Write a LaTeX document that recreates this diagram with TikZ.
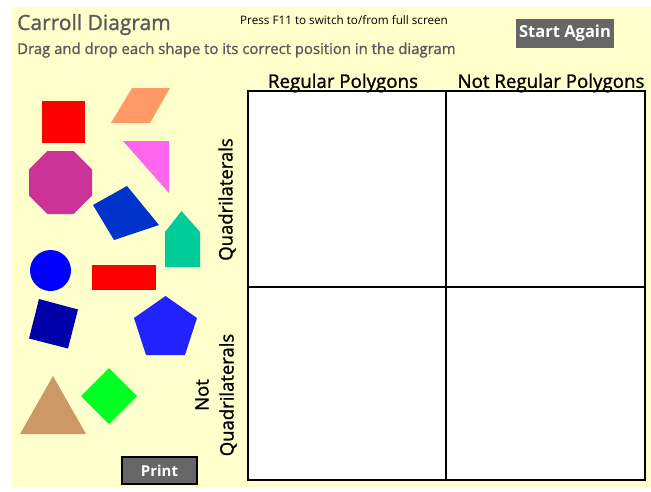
\documentclass[tikz,border=0pt]{standalone}
\usepackage{fontspec}
\setmainfont{Open Sans}
\newfontfamily\medfont{Open Sans}[FakeBold=1.2]
\definecolor{bg}{HTML}{FFFFCC}
\definecolor{titlegray}{HTML}{5A5A5A}
\definecolor{btngray}{HTML}{666666}
\definecolor{sqred}{HTML}{FF0000}
\definecolor{para}{HTML}{FF9966}
\definecolor{pinktri}{HTML}{FF66EE}
\definecolor{octo}{HTML}{CC3399}
\definecolor{rotsq}{HTML}{0033CC}
\definecolor{house}{HTML}{00CC99}
\definecolor{circ}{HTML}{0000FF}
\definecolor{navysq}{HTML}{0000AA}
\definecolor{penta}{HTML}{2222FF}
\definecolor{tan}{HTML}{CC9966}
\definecolor{diam}{HTML}{00FF22}
\tikzset{
  lbl/.style={inner sep=0pt, text=black},
  btn/.style={fill=btngray, text=white, inner sep=0pt, font=\bfseries\fontsize{16.5}{16.5}\selectfont},
  cell/.style={fill=white, draw=black, line width=1.2pt},
}
\begin{document}
\begin{tikzpicture}[x=1pt,y=-1pt]
\useasboundingbox (0,0) rectangle (651,491);
\fill[white] (0,0) rectangle (651,491);
\fill[bg] (12,7) rectangle (651,487);

% header texts
\node[lbl, anchor=base west, text=titlegray, font=\medfont\fontsize{21}{21}\selectfont] (title) at (17,30) {Carroll Diagram};
\node[lbl, anchor=base west, text=titlegray, font=\medfont\fontsize{14.9}{14.9}\selectfont] (instr) at (17,54) {Drag and drop each shape to its correct position in the diagram};
\node[lbl, anchor=base west, font=\fontsize{11.7}{11.7}\selectfont] (f11) at (240,24) {Press F11 to switch to/from full screen};
\node[btn, minimum width=98pt, minimum height=29pt] (start) at (565,33.5) {Start Again};

% grid
\coordinate (tl) at (248,91);
\coordinate (br) at (645,480);
\coordinate (mt) at (446,91);
\coordinate (mb) at (446,480);
\coordinate (ml) at (248,287);
\coordinate (mr) at (645,287);
\draw[cell] (tl) rectangle (br);
\draw[line width=2pt] (mt) -- (mb);
\draw[line width=2pt] (ml) -- (mr);

\node[lbl, font=\medfont\fontsize{18.7}{18.7}\selectfont] (reg) at (343,83) {Regular Polygons};
\node[lbl, font=\medfont\fontsize{18.7}{18.7}\selectfont] (nreg) at (551,83) {Not Regular Polygons};
\node[lbl, rotate=90, font=\medfont\fontsize{18.5}{18.5}\selectfont] (quad) at (227,199.5) {Quadrilaterals};
\node[lbl, rotate=90, align=center, font=\medfont\fontsize{18.5}{25}\selectfont] (nquad) at (216,395) {Not\\Quadrilaterals};

% shapes
\fill[sqred] (42,101) rectangle (85,143);
\fill[para] (132,88) -- (170,88) -- (150,123) -- (111,123) -- cycle;
\fill[pinktri] (123,141) -- (169,141) -- (169,193) -- cycle;
\fill[octo] (47.45,151) -- (73.55,151) -- (92,169.45) -- (92,195.55) -- (73.55,214) -- (47.45,214) -- (29,195.55) -- (29,169.45) -- cycle;
\fill[rotsq] (127,186) -- (159,225) -- (114,240) -- (93,205) -- cycle;
\fill[house] (181.5,211) -- (200,232) -- (200,267) -- (165,267) -- (165,232) -- cycle;
\fill[circ] (50.5,270.5) circle[radius=20.5];
\fill[sqred] (92,265) rectangle (156,290);
\fill[navysq] (39,299) -- (78,309.5) -- (68,348.5) -- (29,338.5) -- cycle;
\fill[penta] (165.5,296) -- (197,318) -- (185,355) -- (146,355) -- (134,318) -- cycle;
\fill[tan] (53,376) -- (86,434) -- (20,434) -- cycle;
\fill[diam] (109,368) -- (137,396) -- (109,424) -- (81,396) -- cycle;

% print button
\node[btn, draw=black, line width=1.5pt, minimum width=75pt, minimum height=27pt, font=\bfseries\fontsize{15}{15}\selectfont] (print) at (159.5,470.5) {Print};
\end{tikzpicture}
\end{document}
